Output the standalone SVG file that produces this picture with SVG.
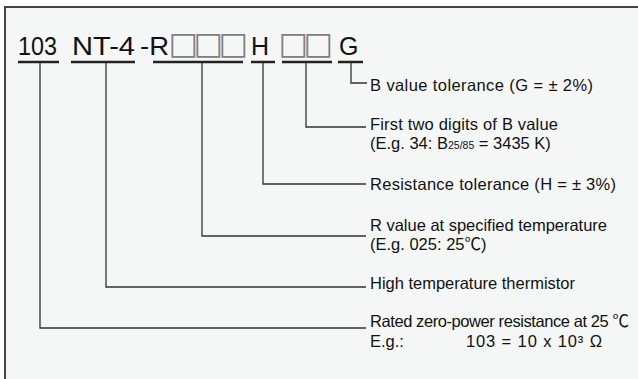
<svg xmlns="http://www.w3.org/2000/svg" width="638" height="379" viewBox="0 0 638 379">
<style>
.t{font-family:"Liberation Sans","Noto Sans CJK JP",sans-serif;fill:#111}
.big{font-size:25px}
.lab{font-size:16.5px}
.sq{font-family:"DejaVu Sans",sans-serif;font-size:31px;fill:#808080}
.ul{stroke:#222;stroke-width:2.5;fill:none}
.cn{stroke:#333;stroke-width:1.3;fill:none}
</style>
<rect x="0" y="0" width="638" height="379" fill="#ffffff"/>
<rect x="5" y="7" width="633" height="372" fill="#f5f7f6"/>
<path d="M5,379 V7 H638" stroke="#444" stroke-width="2" fill="none"/>
<g id="code">
<text class="t big" x="18" y="55" textLength="39" lengthAdjust="spacingAndGlyphs">103</text>
<line class="ul" x1="18" y1="62" x2="59" y2="62"/>
</g>
<g id="series">
<text class="t big" x="72" y="55" textLength="63" lengthAdjust="spacingAndGlyphs">NT-4</text>
<line class="ul" x1="71" y1="62" x2="135" y2="62"/>
</g>
<g id="rvalue">
<text class="t big" x="140" y="55" textLength="29" lengthAdjust="spacingAndGlyphs">-R</text>
<text class="sq" x="168.5 193.5 218.5" y="54">□□□</text>
<line class="ul" x1="153" y1="62" x2="243" y2="62"/>
</g>
<g id="htol">
<text class="t big" x="251" y="55">H</text>
<line class="ul" x1="251" y1="62" x2="275" y2="62"/>
</g>
<g id="bdigits">
<text class="sq" x="278.5 303.5" y="54">□□</text>
<line class="ul" x1="282" y1="62" x2="332" y2="62"/>
</g>
<g id="gtol">
<text class="t big" x="339" y="55">G</text>
<line class="ul" x1="338" y1="62" x2="363" y2="62"/>
</g>
<g id="connectors">
<path class="cn" d="M40,63 V328 H366"/>
<path class="cn" d="M106,63 V287 H366"/>
<path class="cn" d="M202,63 V236 H366"/>
<path class="cn" d="M263,63 V184 H366"/>
<path class="cn" d="M306,63 V127 H366"/>
<path class="cn" d="M351,63 V83 H367"/>
</g>
<g id="labels">
<text class="t lab" x="370" y="91" textLength="223">B value tolerance (G = ± 2%)</text>
<text class="t lab" x="370" y="130" textLength="188">First two digits of B value</text>
<text class="t lab" x="370" y="149">(E.g. 34: B<tspan font-size="10.5">25/85</tspan> = 3435 K)</text>
<text class="t lab" x="370" y="190" textLength="246">Resistance tolerance (H = ± 3%)</text>
<text class="t lab" x="370" y="231" textLength="237">R value at specified temperature</text>
<text class="t lab" x="370" y="250">(E.g. 025: 25℃)</text>
<text class="t lab" x="370" y="289" textLength="205">High temperature thermistor</text>
<text class="t lab" x="370" y="327" textLength="259">Rated zero-power resistance at 25 ℃</text>
<text class="t lab" x="370" y="347">E.g.:</text>
<text class="t lab" x="466" y="347" textLength="136">103 = 10 x 10³ Ω</text>
</g>
</svg>
